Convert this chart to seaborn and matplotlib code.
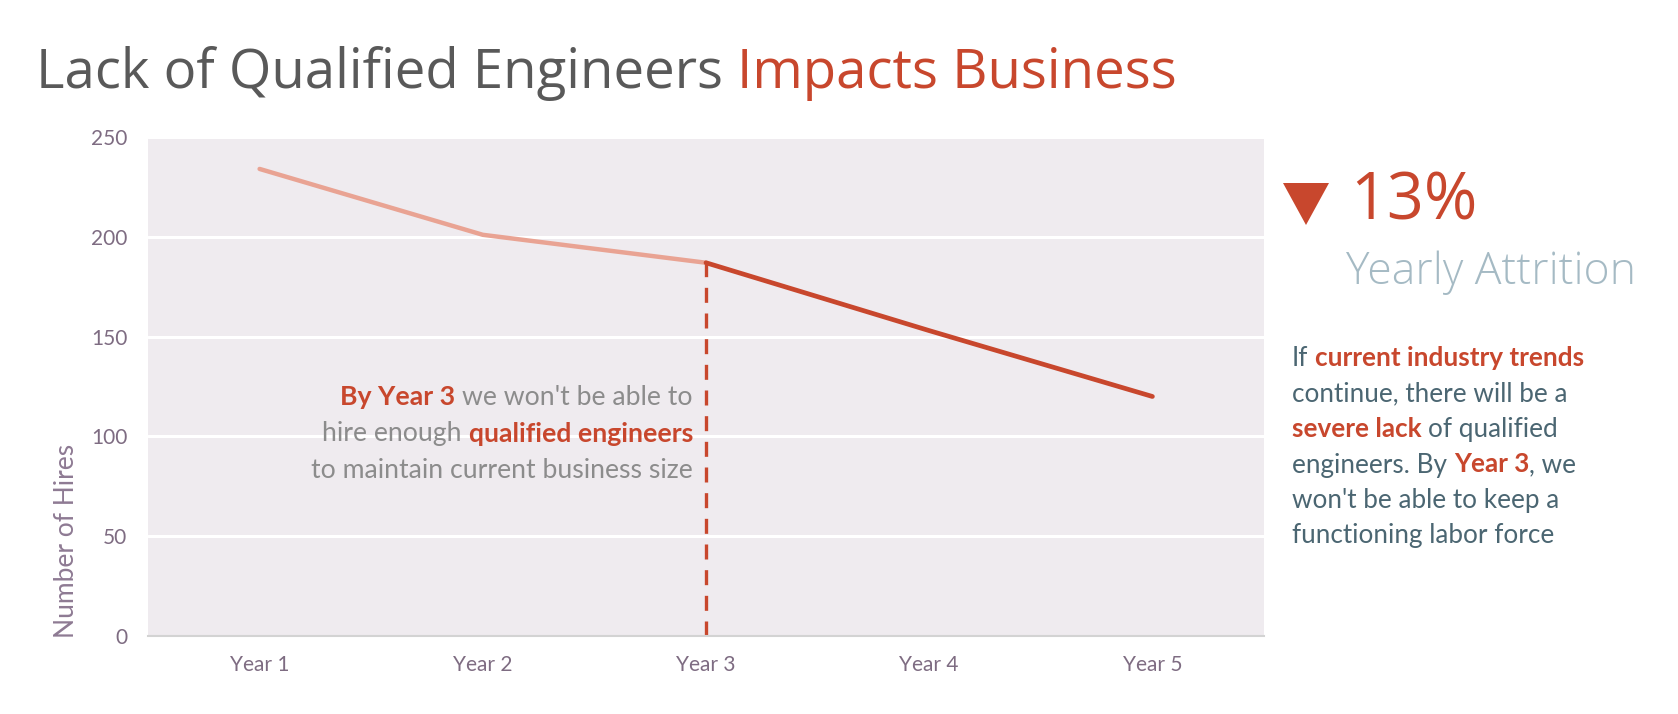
import numpy as np
import pandas as pd
import matplotlib
matplotlib.use("Agg")
import matplotlib.pyplot as plt
import seaborn as sns
from matplotlib.transforms import IdentityTransform
from matplotlib.patches import Polygon

# ---------------- data ----------------
years = ["Year 1", "Year 2", "Year 3", "Year 4", "Year 5"]
hires = [234, 201, 187, 153, 120]
split_index = 2  # Year 3: where the projection starts
yticks = [0, 50, 100, 150, 200, 250]
y_label = "Number of Hires"

title_dark = "Lack of Qualified Engineers "
title_red = "Impacts Business"
kpi_value = "13%"
kpi_label = "Yearly Attrition"

annotation_lines = [
    [("By Year 3", "hi"), (" we won't be able to", "body")],
    [("hire enough ", "body"), ("qualified engineers", "hi")],
    [("to maintain current business size", "body")],
]
paragraph_lines = [
    [("If ", "body"), ("current industry trends", "hi")],
    [("continue, there will be a", "body")],
    [("severe lack", "hi"), (" of qualified", "body")],
    [("engineers. By ", "body"), ("Year 3", "hi"), (", we", "body")],
    [("won't be able to keep a", "body")],
    [("functioning labor force", "body")],
]

# ---------------- style ----------------
W, H = 1678, 714
RED = "#C8472D"
LIGHT_RED = "#E9A393"
BG = "#EFEBEF"
TICK_C = "#7E6C82"
YLAB_C = "#8E7A93"
TITLE_GRAY = "#595959"
ANNOT_GRAY = "#8C8C8C"
PARA_C = "#4B6672"
KPI_LABEL_C = "#A5BAC4"

sns.set_style("darkgrid", {"axes.facecolor": BG, "grid.color": "white"})
plt.rcParams["font.family"] = ["Lato", "DejaVu Sans"]

fig = plt.figure(figsize=(W / 100, H / 100), dpi=100)
fig.patch.set_facecolor("white")
ax = fig.add_axes([148 / W, 1 - 636 / H, (1264 - 148) / W, (636 - 137) / H])

df = pd.DataFrame({"pos": np.arange(len(years)), "year": years, "hires": hires})
past = df.iloc[: split_index + 1]
future = df.iloc[split_index:]

sns.lineplot(data=past, x="pos", y="hires", color=LIGHT_RED, lw=3.2, ax=ax,
             solid_capstyle="round")
sns.lineplot(data=future, x="pos", y="hires", color=RED, lw=3.4, ax=ax,
             solid_capstyle="round")
ax.vlines(df["pos"].iloc[split_index], 0, df["hires"].iloc[split_index],
          colors=RED, linestyles=(0, (4.5, 3.2)), lw=2.4, zorder=1.5)

ax.set_xlim(-0.5, len(years) - 0.5)
ax.set_ylim(yticks[0], yticks[-1])
ax.set_xticks(df["pos"], years)
ax.set_yticks(yticks)
ax.set_xlabel("")
ax.set_ylabel("")
ax.grid(axis="x", visible=False)
ax.grid(axis="y", color="white", lw=2.2)
for s in ["top", "left", "right"]:
    ax.spines[s].set_visible(False)
ax.spines["bottom"].set_visible(True)
ax.spines["bottom"].set_color("#D3D3D3")
ax.spines["bottom"].set_linewidth(1.5)
ax.tick_params(axis="both", length=0, labelsize=15, labelcolor=TICK_C)
ax.tick_params(axis="x", pad=14)
ax.tick_params(axis="y", pad=15)

ID = IdentityTransform()
fig.text(66, H - 638, y_label, rotation=90, ha="center", va="bottom",
         fontsize=19, color=YLAB_C, transform=ID)

renderer = fig.canvas.get_renderer()


def text_width(s, size, family, weight):
    t = fig.text(0, 0, s, fontsize=size, family=family, weight=weight,
                 transform=ID)
    w = t.get_window_extent(renderer).width
    t.remove()
    return w


def space_width(size, family, weight):
    return text_width("a a", size, family, weight) - text_width("aa", size, family, weight)


def rich_line(parts, x, y_top, ha, size, family, styles):
    """Draw a line of mixed-style text; y_top is baseline in pixels from top."""
    layout = []
    cursor = 0.0
    for text, key in parts:
        st = styles[key]
        stripped = text.strip(" ")
        lead = len(text) - len(text.lstrip(" "))
        trail = len(text) - len(text.rstrip(" "))
        sp = space_width(size, family, st["weight"])
        cursor += lead * sp
        w = text_width(stripped, size, family, st["weight"])
        layout.append((stripped, st, cursor))
        cursor += w + trail * sp
    total = cursor
    x0 = x - total if ha == "right" else x
    for stripped, st, off in layout:
        fig.text(x0 + off, H - y_top, stripped, fontsize=size, family=family,
                 weight=st["weight"], color=st["color"], ha="left",
                 va="baseline", transform=ID)
    return total


# ---- title (fit to reference width) ----
title_family = ["Open Sans", "DejaVu Sans"]
TW = "normal"
title_styles = {"dark": {"color": TITLE_GRAY, "weight": TW},
                "red": {"color": RED, "weight": TW}}
title_parts = [(title_dark, "dark"), (title_red, "red")]
base = 40
w0 = sum(text_width(t.strip(), base, title_family, TW) for t, _ in title_parts) \
    + space_width(base, title_family, TW)
title_size = base * 1137 / w0
rich_line(title_parts, 36, 88, "left", title_size, title_family, title_styles)

# ---- annotation inside plot ----
annot_styles = {"body": {"color": ANNOT_GRAY, "weight": "normal"},
                "hi": {"color": RED, "weight": "bold"}}
for i, parts in enumerate(annotation_lines):
    rich_line(parts, 693, 405 + i * 36.5, "right", 19.2, ["Lato", "DejaVu Sans"],
              annot_styles)

# ---- KPI ----
fig.add_artist(Polygon([(1283, H - 183), (1329, H - 183), (1306, H - 225)],
                       closed=True, facecolor=RED, edgecolor="none",
                       transform=ID))
fig.text(1350, H - 220, kpi_value, fontsize=46.5, color=RED,
         family=["Open Sans", "DejaVu Sans"], weight="normal",
         ha="left", va="baseline", transform=ID)
fig.text(1346, H - 284, kpi_label, fontsize=32, color=KPI_LABEL_C,
         family=["Open Sans", "DejaVu Sans"], weight="light",
         ha="left", va="baseline", transform=ID)

# ---- paragraph ----
para_styles = {"body": {"color": PARA_C, "weight": "normal"},
               "hi": {"color": RED, "weight": "bold"}}
for i, parts in enumerate(paragraph_lines):
    rich_line(parts, 1292, 366 + i * 35.5, "left", 18.8, ["Lato", "DejaVu Sans"],
              para_styles)

fig.savefig("out.png", dpi=100, facecolor="white")
